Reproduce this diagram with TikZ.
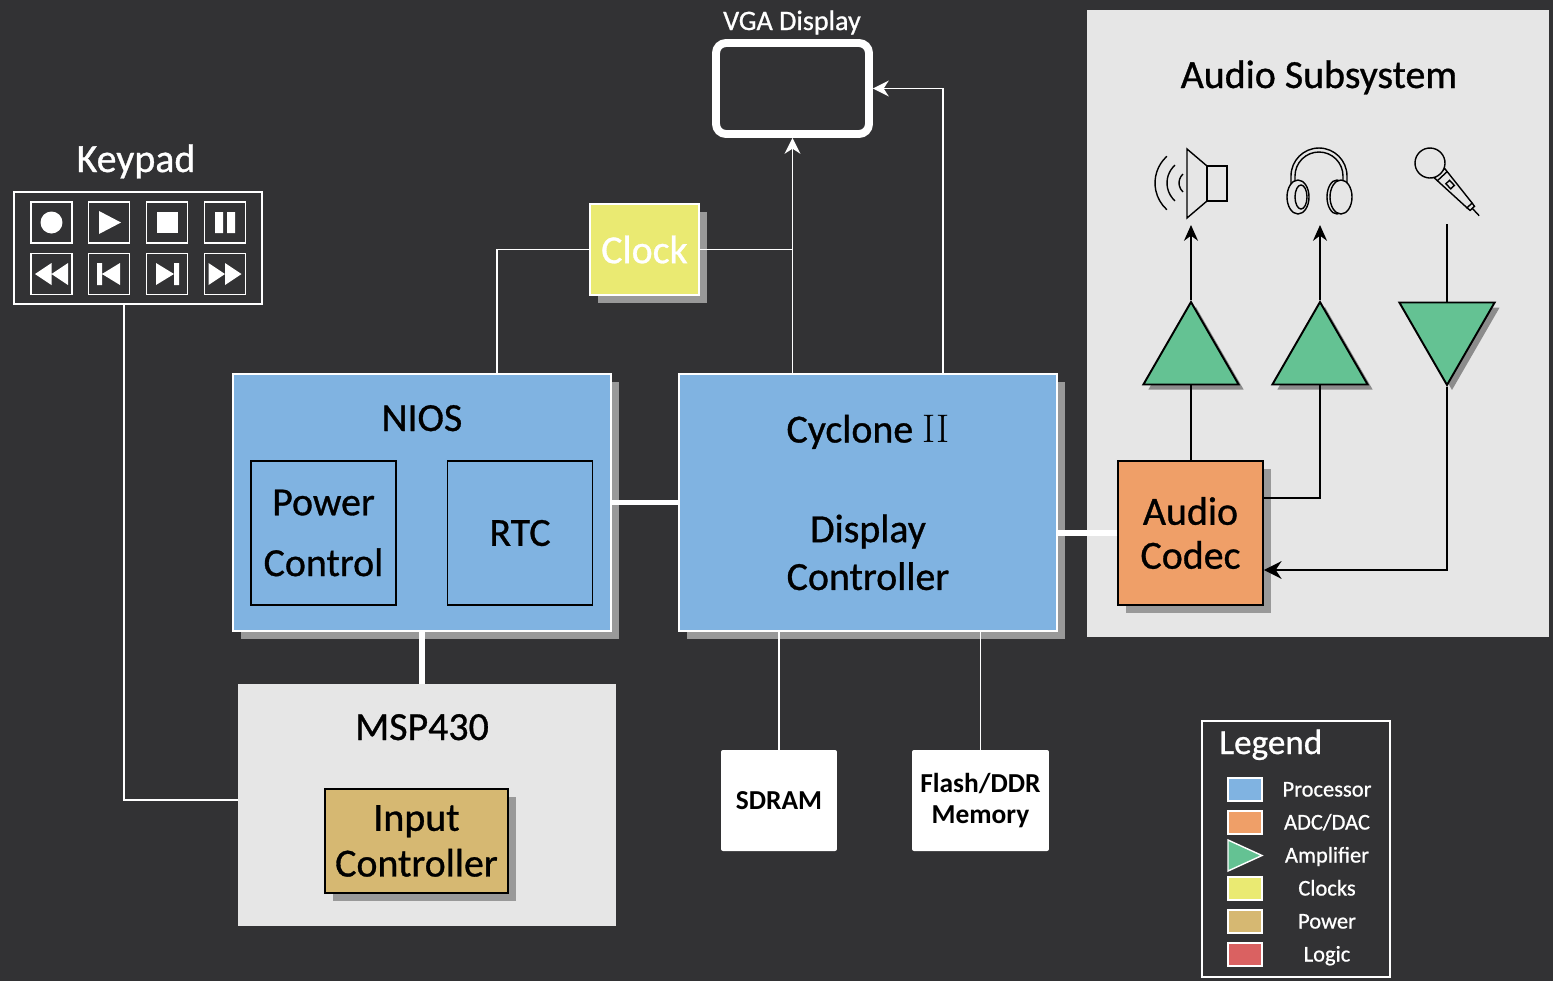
\documentclass[tikz,border=0pt]{standalone}
\usepackage{fontspec}
\setmainfont{Carlito}[UprightFeatures={FakeBold=0.8}]
\usetikzlibrary{arrows.meta,shapes.geometric,shadows}

\definecolor{bgcol}{HTML}{323234}
\definecolor{proc}{HTML}{80B3E1}
\definecolor{adc}{HTML}{EF9F68}
\definecolor{ampl}{HTML}{64C293}
\definecolor{clks}{HTML}{EAEA72}
\definecolor{pwrc}{HTML}{D6B872}
\definecolor{logc}{HTML}{DA6161}
\definecolor{panel}{HTML}{E6E6E6}
\definecolor{shade}{HTML}{999999}

\newcommand\lblfont{\fontsize{22.7}{25}\selectfont}
\newcommand\vgafont{\fontsize{16}{19}\selectfont}
\newcommand\memfont{\fontsize{15.6}{17.6}\selectfont\bfseries}
\newcommand\legfont{\fontsize{12.8}{15}\selectfont}
\newcommand\legttl{\fontsize{20}{23}\selectfont}

\tikzset{
  wire/.style={white, line width=1pt},
  bus/.style={white, line width=3pt},
  awire/.style={black, line width=1.5pt},
  athin/.style={black, line width=1pt},
  shadowed/.style={drop shadow={shadow xshift=0.16cm, shadow yshift=-0.16cm, fill=shade, opacity=1}},
  chip/.style={draw=white, line width=0.85pt, fill=proc, shadowed, minimum width=7.56cm, minimum height=5.14cm, inner sep=0pt},
  inbox/.style={draw=black, line width=1pt, minimum width=2.9cm, minimum height=2.88cm, inner sep=0pt, align=center, font=\lblfont},
  panelbox/.style={fill=panel, inner sep=0pt},
  memblock/.style={fill=white, rounded corners=0.04cm, minimum height=2.02cm, inner sep=0pt, align=center, font=\memfont},
  keybtn/.style={draw=white, line width=1.1pt, minimum size=0.82cm, inner sep=0pt},
  amptri/.style={regular polygon, regular polygon sides=3, minimum size=2.2cm, inner sep=0pt, fill=ampl, draw=black, line width=1.1pt, drop shadow={shadow xshift=0.1cm, shadow yshift=-0.1cm, fill=black!45, opacity=1}},
  swatch/.style={draw=white, line width=0.8pt, minimum width=0.68cm, minimum height=0.46cm, inner sep=0pt},
  ttl/.style={anchor=base, font=\lblfont},
}

\begin{document}
\begin{tikzpicture}[x=0.02cm, y=-0.02cm]
\fill[bgcol] (0,0) rectangle (1553,981);
\useasboundingbox (0,0) rectangle (1553,981);

% panels
\node[panelbox, minimum width=9.24cm, minimum height=12.54cm] (audio) at (1318,323.5) {};
\node[ttl] (audiot) at (1319,88) {Audio Subsystem};
\node[panelbox, minimum width=7.56cm, minimum height=4.84cm] (msp) at (427,805) {};
\node[ttl] (mspt) at (422,740) {MSP430};

% keypad
\node[draw=white, line width=0.85pt, minimum width=4.96cm, minimum height=2.24cm] (kp) at (138,248) {};
\node[ttl, text=white] (kpt) at (136,172) {Keypad};
\foreach \i/\x/\y in {1/51.5/222.5, 2/109/222.5, 3/167/222.5, 4/225/222.5,
                      5/51.5/274, 6/109/274, 7/167/274, 8/225/274}
  \node[keybtn] (b\i) at (\x,\y) {};
\begin{scope}[white]
\fill (b1) circle (0.22cm);
\fill[shift={(b2)}] (-10,-11.5) -- (12,0) -- (-10,11.5) -- cycle;
\fill[shift={(b3)}] (-10.5,-10.5) rectangle (10.5,10.5);
\fill[shift={(b4)}] (-10,-10.5) rectangle (-2,10.5) (2,-10.5) rectangle (10,10.5);
\fill[shift={(b5)}] (0,-11) -- (-16.5,0) -- (0,11) -- cycle (16.5,-11) -- (0,0) -- (16.5,11) -- cycle;
\fill[shift={(b6)}] (-12,-11) rectangle (-7,11) (11,-11) -- (-7,0) -- (11,11) -- cycle;
\fill[shift={(b7)}] (-11,-11) -- (7,0) -- (-11,11) -- cycle (7,-11) rectangle (12,11);
\fill[shift={(b8)}] (-16.5,-11) -- (0,0) -- (-16.5,11) -- cycle (0,-11) -- (16.5,0) -- (0,11) -- cycle;
\end{scope}

% processors
\node[chip] (nios) at (422,502.5) {};
\node[ttl] (niost) at (422,431) {NIOS};
\node[inbox] (pwr) at (323.5,533) {Power\\[9.6pt]Control};
\node[inbox] (rtc) at (520,533) {RTC};
\node[chip, align=center, font=\lblfont] (cyc) at (868,502.5)
  {Cyclone {\fontfamily{lmr}\selectfont II}\\[31.7pt]Display\\[2.2pt]Controller};
\node[inbox, fill=pwrc, shadowed, minimum width=3.66cm, minimum height=2.08cm] (inp) at (416.5,841) {Input\\[1pt]Controller};

% clock and display
\node[draw=white, line width=0.85pt, fill=clks, shadowed, text=white, font=\lblfont,
      minimum width=2.18cm, minimum height=1.82cm] (clk) at (644.5,249.5) {Clock};
\node[draw=white, line width=4.5pt, rounded corners=0.2cm, minimum width=3.06cm, minimum height=1.82cm] (vga) at (792.5,88.5) {};
\node[anchor=base, text=white, font=\vgafont] (vgat) at (792,30) {VGA Display};

% memory
\node[memblock, minimum width=2.32cm] (sdram) at (779,800.5) {SDRAM};
\node[memblock, minimum width=2.74cm] (flash) at (980.5,800.5) {Flash/DDR\\Memory};

% audio
\node[inbox, fill=adc, shadowed] (codec) at (1190.5,533) {Audio\\Codec};
\node[amptri] (amp1) at (1191,357) {};
\node[amptri] (amp2) at (1320,357) {};
\node[amptri, shape border rotate=180] (amp3) at (1447,330) {};
\coordinate (spk) at (1191,225);
\coordinate (hph) at (1320,225);
\coordinate (mic) at (1447,224);

% speaker
\begin{scope}[athin, line width=0.8pt]
\draw (1187,149) -- (1187,218) -- (1207,201) -- (1207,166) -- cycle;
\draw (1207,166) rectangle (1227,201);
\foreach \r in {0.24cm,0.48cm,0.72cm}
  \draw (1191,183) ++(132:\r) arc[start angle=132, end angle=228, radius=\r];
% headphones
\draw (1291,190) -- (1291,176) arc[start angle=180, end angle=0, radius=0.56cm] -- (1347,190);
\draw (1295,184) -- (1295,176) arc[start angle=180, end angle=0, radius=0.48cm] -- (1343,184);
\draw[fill=panel] (1298,197) ellipse[x radius=0.22cm, y radius=0.34cm];
\draw (1301,197) ellipse[x radius=0.12cm, y radius=0.24cm];
\draw[fill=panel] (1337,197) ellipse[x radius=0.2cm, y radius=0.34cm];
\draw[fill=panel] (1341,197) ellipse[x radius=0.22cm, y radius=0.34cm];
% microphone
\begin{scope}[shift={(1430,163)}, rotate=-47]
\draw[fill=panel] (14,-7) -- (58,-3.5) -- (58,3.5) -- (14,7) -- cycle;
\draw (18,-6.8) -- (18,6.8);
\draw (26,-2.5) rectangle (33,2.5);
\draw (58,-3.5) -- (62,-3) -- (62,3) -- (58,3.5);
\draw (62,0) -- (72,0);
\draw[fill=panel] (0,0) circle (0.3cm);
\end{scope}
\end{scope}

% audio connections
\draw[athin, -{Stealth[length=9pt, width=8pt]}] (amp1.corner 1) -- (spk);
\draw[athin, -{Stealth[length=9pt, width=8pt]}] (amp2.corner 1) -- (hph);
\draw[athin] (mic) -- (amp3.side 2);
\draw[awire] (amp1.side 2) -- (amp1.side 2 |- codec.north);
\draw[awire] (amp2.side 2) |- ([yshift=0.7cm]codec.east);
\draw[awire, -{Stealth[length=10pt, width=10pt]}] (amp3.corner 1) |- ([yshift=-0.74cm]codec.east);

% connections
\draw[wire] ([xshift=-0.28cm]kp.south) |- ([yshift=0.1cm]msp.west);
\draw[wire] (clk.west) -| ([xshift=1.5cm]nios.north);
\draw[wire] (clk.east) -- (clk.east -| vga.south);
\draw[wire, -{Stealth[length=9pt, width=9pt]}] (vga.south |- cyc.north) -- (vga.south);
\draw[wire, -{Stealth[length=9pt, width=9pt]}] ([xshift=1.5cm]cyc.north) |- (vga.east);
\draw[bus] (nios.east) -- (cyc.west);
\draw[bus] (nios.south) -- (nios.south |- msp.north);
\draw[bus] (codec.west) -- (codec.west -| cyc.east);
\draw[wire] (sdram.north |- cyc.south) -- (sdram.north);
\draw[wire] (flash.north |- cyc.south) -- (flash.north);

% legend
\node[draw=white, line width=0.85pt, minimum width=3.76cm, minimum height=5.12cm] (leg) at (1296,849) {};
\node[anchor=base west, inner sep=0pt, text=white, font=\legttl] (legt) at (1219,754) {Legend};
\foreach \i/\c/\t/\y in {1/proc/Processor/789.5, 2/adc/{ADC/DAC}/822.5, 4/clks/Clocks/888.5,
                         5/pwrc/Power/921.5, 6/logc/Logic/954.5} {
  \node[swatch, fill=\c] (sw\i) at (1245,\y) {};
  \node[anchor=base, text=white, font=\legfont] (lt\i) at (1327,\y+7) {\t};
}
\filldraw[fill=ampl, draw=white, line width=0.8pt] (1228,840) -- (1262,855.5) -- (1228,871) -- cycle;
\node[anchor=base, text=white, font=\legfont] (lt3) at (1327,862.5) {Amplifier};
\end{tikzpicture}
\end{document}
